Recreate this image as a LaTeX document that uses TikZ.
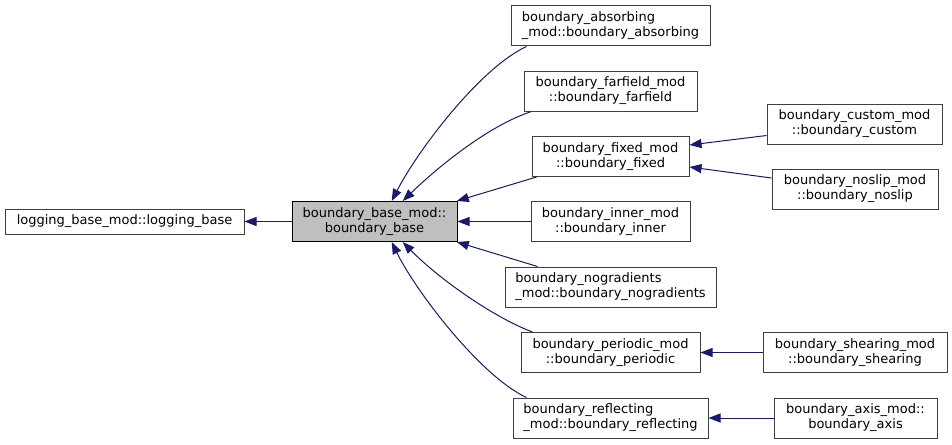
\documentclass[tikz,border=0pt]{standalone}
\usepackage{fontspec}
\setmainfont{DejaVu Sans}
\usetikzlibrary{arrows.meta,calc}
\definecolor{edgecol}{RGB}{25,25,112}
\definecolor{bordercol}{RGB}{64,64,64}
\definecolor{basefill}{RGB}{191,191,191}
\begin{document}
\begin{tikzpicture}[x=1pt,y=-1pt,
 cls/.style={draw=bordercol, line width=1pt, fill=white, inner sep=0pt, minimum height=40pt,
   font=\fontsize{13}{15}\selectfont, align=center},
 edge/.style={draw=edgecol, line width=1pt, {Triangle[length=12pt,width=9pt]}-},
]
\useasboundingbox (0,0) rectangle (952,444);

\node[cls, minimum width=239pt, minimum height=25pt] (logging) at (124.5,221.5) {logging\_base\_mod::logging\_base};
\node[cls, minimum width=165pt, fill=basefill, draw=black] (base) at (374.5,221.5) {boundary\_base\_mod::\\boundary\_base};
\node[cls, minimum width=199pt, align=left] (absorbing) at (610.5,26) {boundary\_absorbing\\\_mod::boundary\_absorbing};
\node[cls, minimum width=173pt] (farfield) at (610.5,91) {boundary\_farfield\_mod\\::boundary\_farfield};
\node[cls, minimum width=157pt] (fixed) at (610.5,156.5) {boundary\_fixed\_mod\\::boundary\_fixed};
\node[cls, minimum width=159pt] (inner) at (610.5,221.5) {boundary\_inner\_mod\\::boundary\_inner};
\node[cls, minimum width=211pt, align=left] (nogradients) at (610.5,287) {boundary\_nogradients\\\_mod::boundary\_nogradients};
\node[cls, minimum width=179pt] (periodic) at (610.5,352.5) {boundary\_periodic\_mod\\::boundary\_periodic};
\node[cls, minimum width=195pt, align=left] (reflecting) at (610.5,418) {boundary\_reflecting\\\_mod::boundary\_reflecting};
\node[cls, minimum width=175pt] (custom) at (854.5,124) {boundary\_custom\_mod\\::boundary\_custom};
\node[cls, minimum width=166pt] (noslip) at (855,189) {boundary\_noslip\_mod\\::boundary\_noslip};
\node[cls, minimum width=184pt] (shearing) at (855,352.5) {boundary\_shearing\_mod\\::boundary\_shearing};
\node[cls, minimum width=163pt] (axis) at (855.5,418) {boundary\_axis\_mod::\\boundary\_axis};

\draw[edge] (logging.east) -- (base.west);
\draw[edge] (base.50) .. controls (418,150) and (480,68) .. ($(absorbing.south west)+(16,0)$);
\draw[edge] (base.36) .. controls (440,165) and (490,125) .. ($(farfield.south west)+(8,0)$);
\draw[edge] (base.14) -- ($(fixed.south west)+(5,0)$);
\draw[edge] (base.east) -- (inner.west);
\draw[edge] (base.-14) -- ($(nogradients.north west)+(33,0)$);
\draw[edge] (base.-36) .. controls (440,280) and (495,318) .. ($(periodic.north west)+(12,0)$);
\draw[edge] (base.-50) .. controls (415,290) and (480,376) .. ($(reflecting.north west)+(14,0)$);
\draw[edge] ($(fixed.east)+(0,-11.5)$) -- ($(custom.west)+(0,11.5)$);
\draw[edge] ($(fixed.east)+(0,10.5)$) -- ($(noslip.west)+(0,-11)$);
\draw[edge] (periodic.east) -- (shearing.west);
\draw[edge] (reflecting.east) -- (axis.west);
\end{tikzpicture}
\end{document}
